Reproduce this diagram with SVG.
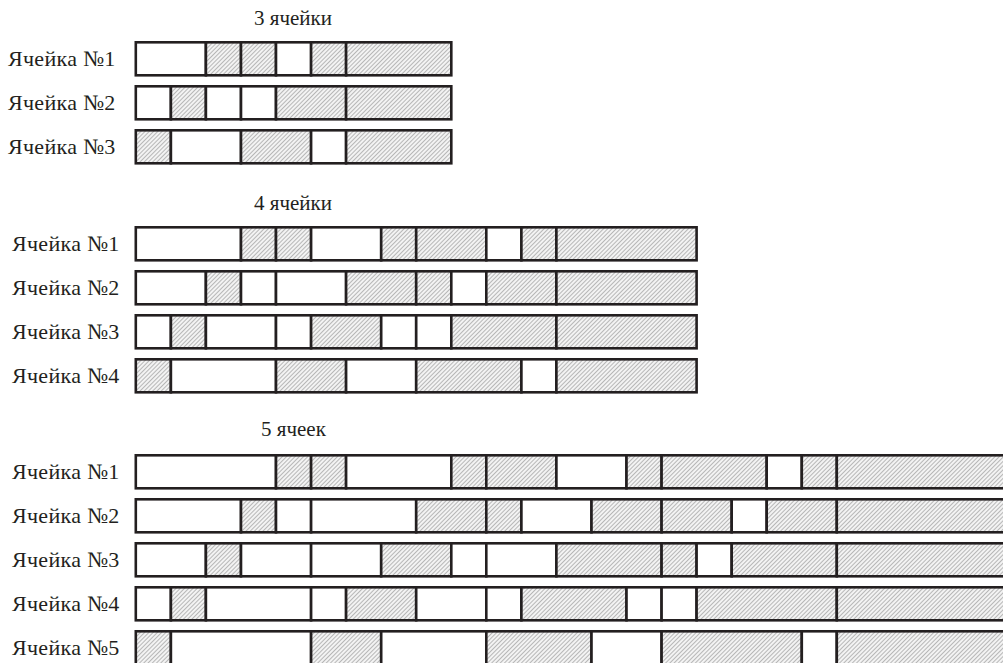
<svg xmlns="http://www.w3.org/2000/svg" width="1003" height="663" viewBox="0 0 1003 663">
<defs>
<pattern id="hatch" patternUnits="userSpaceOnUse" width="3" height="3" patternTransform="rotate(45)">
<rect width="3" height="3" fill="#f3f3f3"/>
<line x1="0.5" y1="0" x2="0.5" y2="3" stroke="#a3a3a3" stroke-width="0.75"/>
</pattern>
<style>
.w{fill:#ffffff;stroke:#231f20;stroke-width:2.6}
.h{fill:url(#hatch);stroke:#231f20;stroke-width:2.6}
.lbl{font-family:"Liberation Serif","Times New Roman",serif;font-size:22px;letter-spacing:0.3px;fill:#231f20}
.ttl{font-family:"Liberation Serif","Times New Roman",serif;font-size:21px;fill:#231f20;text-anchor:middle}
</style>
</defs>
<rect width="1003" height="663" fill="#ffffff"/>

<g id="title3"><text class="ttl" x="293" y="25">3 ячейки</text></g>
<g id="c3-r1">
<text class="lbl" x="8" y="65.5">Ячейка №1</text>
<rect class="w" x="135.8" y="42.3" width="70.1" height="33"/>
<rect class="h" x="205.9" y="42.3" width="35.1" height="33"/>
<rect class="h" x="241" y="42.3" width="35" height="33"/>
<rect class="w" x="276" y="42.3" width="35.1" height="33"/>
<rect class="h" x="311.1" y="42.3" width="35" height="33"/>
<rect class="h" x="346.1" y="42.3" width="105.2" height="33"/>
</g>
<g id="c3-r2">
<text class="lbl" x="8" y="109.5">Ячейка №2</text>
<rect class="w" x="135.8" y="86.3" width="35.1" height="33"/>
<rect class="h" x="170.9" y="86.3" width="35" height="33"/>
<rect class="w" x="205.9" y="86.3" width="35.1" height="33"/>
<rect class="w" x="241" y="86.3" width="35" height="33"/>
<rect class="h" x="276" y="86.3" width="70.1" height="33"/>
<rect class="h" x="346.1" y="86.3" width="105.2" height="33"/>
</g>
<g id="c3-r3">
<text class="lbl" x="8" y="153.5">Ячейка №3</text>
<rect class="h" x="135.8" y="130.3" width="35.1" height="33"/>
<rect class="w" x="170.9" y="130.3" width="70.1" height="33"/>
<rect class="h" x="241" y="130.3" width="70.1" height="33"/>
<rect class="w" x="311.1" y="130.3" width="35" height="33"/>
<rect class="h" x="346.1" y="130.3" width="105.2" height="33"/>
</g>

<g id="title4"><text class="ttl" x="293" y="210">4 ячейки</text></g>
<g id="c4-r1">
<text class="lbl" x="12" y="250.5">Ячейка №1</text>
<rect class="w" x="135.8" y="227.3" width="105.2" height="33"/>
<rect class="h" x="241" y="227.3" width="35" height="33"/>
<rect class="h" x="276" y="227.3" width="35.1" height="33"/>
<rect class="w" x="311.1" y="227.3" width="70.1" height="33"/>
<rect class="h" x="381.2" y="227.3" width="35" height="33"/>
<rect class="h" x="416.2" y="227.3" width="70.1" height="33"/>
<rect class="w" x="486.3" y="227.3" width="35.1" height="33"/>
<rect class="h" x="521.4" y="227.3" width="35" height="33"/>
<rect class="h" x="556.4" y="227.3" width="140.2" height="33"/>
</g>
<g id="c4-r2">
<text class="lbl" x="12" y="294.5">Ячейка №2</text>
<rect class="w" x="135.8" y="271.3" width="70.1" height="33"/>
<rect class="h" x="205.9" y="271.3" width="35.1" height="33"/>
<rect class="w" x="241" y="271.3" width="35" height="33"/>
<rect class="w" x="276" y="271.3" width="70.1" height="33"/>
<rect class="h" x="346.1" y="271.3" width="70.1" height="33"/>
<rect class="h" x="416.2" y="271.3" width="35.1" height="33"/>
<rect class="w" x="451.3" y="271.3" width="35" height="33"/>
<rect class="h" x="486.3" y="271.3" width="70.1" height="33"/>
<rect class="h" x="556.4" y="271.3" width="140.2" height="33"/>
</g>
<g id="c4-r3">
<text class="lbl" x="12" y="338.5">Ячейка №3</text>
<rect class="w" x="135.8" y="315.3" width="35.1" height="33"/>
<rect class="h" x="170.9" y="315.3" width="35" height="33"/>
<rect class="w" x="205.9" y="315.3" width="70.1" height="33"/>
<rect class="w" x="276" y="315.3" width="35.1" height="33"/>
<rect class="h" x="311.1" y="315.3" width="70.1" height="33"/>
<rect class="w" x="381.2" y="315.3" width="35" height="33"/>
<rect class="w" x="416.2" y="315.3" width="35.1" height="33"/>
<rect class="h" x="451.3" y="315.3" width="105.1" height="33"/>
<rect class="h" x="556.4" y="315.3" width="140.2" height="33"/>
</g>
<g id="c4-r4">
<text class="lbl" x="12" y="382.5">Ячейка №4</text>
<rect class="h" x="135.8" y="359.3" width="35.1" height="33"/>
<rect class="w" x="170.9" y="359.3" width="105.1" height="33"/>
<rect class="h" x="276" y="359.3" width="70.1" height="33"/>
<rect class="w" x="346.1" y="359.3" width="70.1" height="33"/>
<rect class="h" x="416.2" y="359.3" width="105.2" height="33"/>
<rect class="w" x="521.4" y="359.3" width="35" height="33"/>
<rect class="h" x="556.4" y="359.3" width="140.2" height="33"/>
</g>

<g id="title5"><text class="ttl" x="293.5" y="436">5 ячеек</text></g>
<g id="c5-r1">
<text class="lbl" x="12" y="478.5">Ячейка №1</text>
<rect class="w" x="135.8" y="455.3" width="140.2" height="33"/>
<rect class="h" x="276" y="455.3" width="35.1" height="33"/>
<rect class="h" x="311.1" y="455.3" width="35" height="33"/>
<rect class="w" x="346.1" y="455.3" width="105.2" height="33"/>
<rect class="h" x="451.3" y="455.3" width="35" height="33"/>
<rect class="h" x="486.3" y="455.3" width="70.1" height="33"/>
<rect class="w" x="556.4" y="455.3" width="70.1" height="33"/>
<rect class="h" x="626.5" y="455.3" width="35.1" height="33"/>
<rect class="h" x="661.6" y="455.3" width="105.1" height="33"/>
<rect class="w" x="766.7" y="455.3" width="35.1" height="33"/>
<rect class="h" x="801.8" y="455.3" width="35" height="33"/>
<rect class="h" x="836.8" y="455.3" width="175.2" height="33"/>
</g>
<g id="c5-r2">
<text class="lbl" x="12" y="522.5">Ячейка №2</text>
<rect class="w" x="135.8" y="499.3" width="105.2" height="33"/>
<rect class="h" x="241" y="499.3" width="35" height="33"/>
<rect class="w" x="276" y="499.3" width="35.1" height="33"/>
<rect class="w" x="311.1" y="499.3" width="105.1" height="33"/>
<rect class="h" x="416.2" y="499.3" width="70.1" height="33"/>
<rect class="h" x="486.3" y="499.3" width="35.1" height="33"/>
<rect class="w" x="521.4" y="499.3" width="70.1" height="33"/>
<rect class="h" x="591.5" y="499.3" width="70.1" height="33"/>
<rect class="h" x="661.6" y="499.3" width="70.1" height="33"/>
<rect class="w" x="731.7" y="499.3" width="35" height="33"/>
<rect class="h" x="766.7" y="499.3" width="70.1" height="33"/>
<rect class="h" x="836.8" y="499.3" width="175.2" height="33"/>
</g>
<g id="c5-r3">
<text class="lbl" x="12" y="566.5">Ячейка №3</text>
<rect class="w" x="135.8" y="543.3" width="70.1" height="33"/>
<rect class="h" x="205.9" y="543.3" width="35.1" height="33"/>
<rect class="w" x="241" y="543.3" width="70.1" height="33"/>
<rect class="w" x="311.1" y="543.3" width="70.1" height="33"/>
<rect class="h" x="381.2" y="543.3" width="70.1" height="33"/>
<rect class="w" x="451.3" y="543.3" width="35" height="33"/>
<rect class="w" x="486.3" y="543.3" width="70.1" height="33"/>
<rect class="h" x="556.4" y="543.3" width="105.2" height="33"/>
<rect class="h" x="661.6" y="543.3" width="35" height="33"/>
<rect class="w" x="696.6" y="543.3" width="35.1" height="33"/>
<rect class="h" x="731.7" y="543.3" width="105.1" height="33"/>
<rect class="h" x="836.8" y="543.3" width="175.2" height="33"/>
</g>
<g id="c5-r4">
<text class="lbl" x="12" y="610.5">Ячейка №4</text>
<rect class="w" x="135.8" y="587.3" width="35.1" height="33"/>
<rect class="h" x="170.9" y="587.3" width="35" height="33"/>
<rect class="w" x="205.9" y="587.3" width="105.2" height="33"/>
<rect class="w" x="311.1" y="587.3" width="35" height="33"/>
<rect class="h" x="346.1" y="587.3" width="70.1" height="33"/>
<rect class="w" x="416.2" y="587.3" width="70.1" height="33"/>
<rect class="w" x="486.3" y="587.3" width="35.1" height="33"/>
<rect class="h" x="521.4" y="587.3" width="105.1" height="33"/>
<rect class="w" x="626.5" y="587.3" width="35.1" height="33"/>
<rect class="w" x="661.6" y="587.3" width="35" height="33"/>
<rect class="h" x="696.6" y="587.3" width="140.2" height="33"/>
<rect class="h" x="836.8" y="587.3" width="175.2" height="33"/>
</g>
<g id="c5-r5">
<text class="lbl" x="12" y="654.5">Ячейка №5</text>
<rect class="h" x="135.8" y="631.3" width="35.1" height="34"/>
<rect class="w" x="170.9" y="631.3" width="140.2" height="34"/>
<rect class="h" x="311.1" y="631.3" width="70.1" height="34"/>
<rect class="w" x="381.2" y="631.3" width="105.1" height="34"/>
<rect class="h" x="486.3" y="631.3" width="105.2" height="34"/>
<rect class="w" x="591.5" y="631.3" width="70.1" height="34"/>
<rect class="h" x="661.6" y="631.3" width="140.2" height="34"/>
<rect class="w" x="801.8" y="631.3" width="35" height="34"/>
<rect class="h" x="836.8" y="631.3" width="175.2" height="34"/>
</g>
</svg>
